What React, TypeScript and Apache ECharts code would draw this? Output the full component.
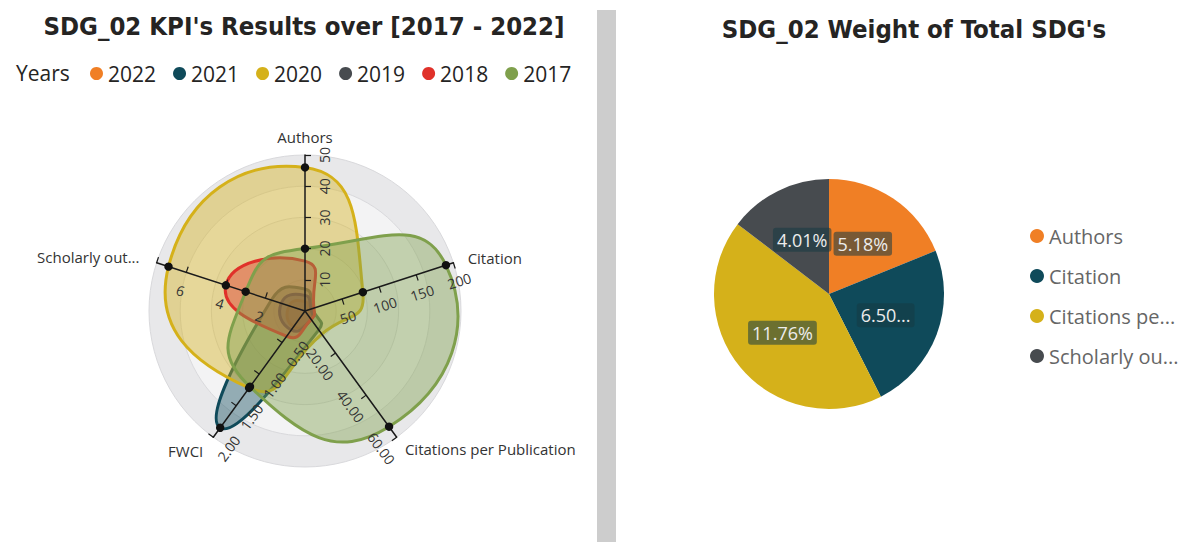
import React, { useEffect, useRef } from 'react';
import * as echarts from 'echarts';

// ---------- data ----------
const axisNames = ['Authors', 'Citation', 'Citations per Publication', 'FWCI', 'Scholarly output'];
const axisMax = [50, 200, 60, 2, 7.5];
const authorsTicks = [10, 20, 30, 40, 50];
const citationTicks = [50, 100, 150, 200];
const cppTicks = [20, 40, 60];
const fwciTicks = [0.5, 1, 1.5, 2];
const scholarlyTicks = [2, 4, 6];

const years = ['2022', '2021', '2020', '2019', '2018', '2017'];
// values in axis order: Authors, Citation, Citations per Publication, FWCI, Scholarly output
const values2022 = [3, 5, 4, 0.25, 0.8];
const values2021 = [7, 10, 9, 1.85, 1.7];
const values2020 = [46, 78, 11, 1.22, 6.9];
const values2019 = [5, 8, 4, 0.3, 1.2];
const values2018 = [16, 12, 4, 0.4, 4];
const values2017 = [20, 190, 55, 1.2, 3];

const pieNames = ['Authors', 'Citation', 'Citations per Publication', 'Scholarly output'];
const pieValues = [5.18, 6.5, 11.76, 4.01];
const pieTruncated = [false, true, false, false];

// ---------- styling ----------
const yearColors = ['#F07F25', '#0F4A5A', '#D5B11A', '#474B4F', '#E0312A', '#7FA04C'];
const pieColors = ['#F07F25', '#0F4A5A', '#D5B11A', '#474B4F'];
const yearValues = [values2022, values2021, values2020, values2019, values2018, values2017];
const tickSets = [authorsTicks, citationTicks, cppTicks, fwciTicks, scholarlyTicks];
const labelFormatters = [
  (v: number) => String(v),
  (v: number) => String(v),
  (v: number) => v.toFixed(2),
  (v: number) => v.toFixed(2),
  (v: number) => String(v),
];
const nameGaps = [8, 15, 14, 17, 18];
const radarOrder = [0, 4, 3, 2, 1]; // echarts radar runs counter-clockwise
const CX = 305;
const CY = 311;
const R = 156;
const UI_FONT = "'Open Sans', 'Noto Sans', sans-serif";
const TITLE_FONT = "'DejaVu Sans Condensed', 'DejaVu Sans', sans-serif";

function buildOption() {
  const axisIndicators = radarOrder.map((k, i) => {
    const ang = 90 + 72 * i;
    const norm = ((ang + 180) % 360) - 180;
    let rot = norm;
    if (rot > 90) rot -= 180;
    else if (rot <= -90) rot += 180;
    const flipped = rot !== norm;
    const ticks = k === 4 ? [...tickSets[k], axisMax[k]] : tickSets[k];
    const ind: any = {
      name: axisNames[k],
      min: 0,
      max: axisMax[k],
      nameGap: nameGaps[k],
      axisTick: { customValues: ticks },
      axisLabel: {
        customValues: tickSets[k],
        rotate: rot,
        formatter: labelFormatters[k],
        margin: flipped ? 12 : -26,
      },
    };
    if (k === 4) ind.nameTruncate = { maxWidth: 106, ellipsis: '...' };
    return ind;
  });
  const bgIndicators = radarOrder.map((k) => ({ name: axisNames[k], min: 0, max: axisMax[k] }));

  const areaSeries = years.map((y, yi) => ({
    type: 'custom',
    name: y,
    coordinateSystem: 'polar',
    z: 2,
    itemStyle: { color: yearColors[yi] },
    data: [[0, 0]],
    renderItem: (params: any, api: any) => {
      const pts = yearValues[yi].map((v, k) => api.coord([v / axisMax[k], k]));
      return {
        type: 'polygon',
        shape: { points: pts, smooth: 0.6 },
        style: {
          fill: echarts.color.modifyAlpha(yearColors[yi], 0.42),
          stroke: yearColors[yi],
          lineWidth: 3,
        },
      };
    },
  }));

  const dotSeries = {
    type: 'custom',
    name: 'points',
    coordinateSystem: 'polar',
    z: 4,
    data: years.map((_, i) => [0, i]),
    renderItem: (params: any, api: any) => {
      const vals = yearValues[params.dataIndex];
      const children: any[] = [];
      vals.forEach((v, k) => {
        if (v / axisMax[k] >= 0.35) {
          const p = api.coord([v / axisMax[k], k]);
          children.push({ type: 'circle', shape: { cx: p[0], cy: p[1], r: 4.2 }, style: { fill: '#111' } });
        }
      });
      return { type: 'group', children };
    },
  };

  const pieSeries = {
    type: 'pie',
    center: [829, 294],
    radius: 115,
    startAngle: 90,
    clockwise: true,
    labelLine: { show: false },
    emphasis: { disabled: true },
    label: {
      show: true,
      position: 'inside',
      color: '#ececec',
      fontSize: 18,
      fontFamily: UI_FONT,
      backgroundColor: 'rgba(22,58,68,0.55)',
      padding: [3, 4],
      borderRadius: 3,
    },
    data: pieNames.map((n, i) => ({
      name: n,
      value: pieValues[i],
      itemStyle: { color: pieColors[i] },
      label: {
        formatter: (p: any) => p.value.toFixed(2) + (pieTruncated[i] ? '...' : '%'),
      },
    })),
  };

  return {
    animation: false,
    backgroundColor: '#ffffff',
    title: [
      {
        text: "SDG_02 KPI's Results over [2017 - 2022]",
        left: 304,
        top: 13,
        padding: 0,
        textAlign: 'center',
        textStyle: { fontFamily: TITLE_FONT, fontWeight: 'bold', fontSize: 25.5, color: '#252423' },
      },
      {
        text: "SDG_02 Weight of Total SDG's",
        left: 914,
        top: 16,
        padding: 0,
        textAlign: 'center',
        textStyle: { fontFamily: TITLE_FONT, fontWeight: 'bold', fontSize: 25.5, color: '#252423' },
      },
      {
        text: 'Years',
        left: 16,
        top: 62,
        padding: 0,
        textStyle: { fontFamily: UI_FONT, fontWeight: 'normal', fontSize: 21, color: '#252423' },
      },
    ],
    legend: [
      {
        data: years,
        left: 85,
        top: 58,
        icon: 'circle',
        itemWidth: 13,
        itemHeight: 13,
        itemGap: 17,
        selectedMode: false,
        textStyle: { fontFamily: UI_FONT, fontSize: 21, color: '#252423' },
      },
      {
        data: pieNames,
        orient: 'vertical',
        left: 1025,
        top: 218,
        icon: 'circle',
        itemWidth: 14,
        itemHeight: 14,
        itemGap: 14,
        selectedMode: false,
        textStyle: {
          fontFamily: UI_FONT,
          fontSize: 20,
          lineHeight: 26,
          color: '#666666',
          width: 134,
          overflow: 'truncate',
          ellipsis: '...',
        },
      },
    ],
    radar: [
      {
        center: [CX, CY],
        radius: R,
        startAngle: 90,
        shape: 'circle',
        z: 1,
        indicator: bgIndicators,
        axisName: { show: false },
        axisLine: { show: false },
        axisTick: { show: false },
        axisLabel: { show: false },
        splitLine: { show: true, lineStyle: { color: '#d9d9dc', width: 1 } },
        splitArea: { show: true, areaStyle: { color: ['#eeeeef', '#f3f3f4', '#eeeeef', '#f3f3f4', '#e8e8ea'] } },
      },
      {
        center: [CX, CY],
        radius: R,
        startAngle: 90,
        shape: 'circle',
        z: 3,
        indicator: axisIndicators,
        axisName: { color: '#333333', fontSize: 15, fontFamily: UI_FONT },
        axisLine: { show: true, lineStyle: { color: '#1a1a1a', width: 1.5 } },
        axisTick: { show: true, length: -6, lineStyle: { color: '#1a1a1a', width: 1.2 } },
        axisLabel: { show: true, color: '#333333', fontSize: 14, fontFamily: UI_FONT },
        splitLine: { show: false },
        splitArea: { show: false },
      },
    ],
    polar: { center: [CX, CY], radius: R },
    angleAxis: { type: 'value', min: 0, max: 5, startAngle: 90, clockwise: true, show: false },
    radiusAxis: { type: 'value', min: 0, max: 1, show: false },
    graphic: [
      { type: 'rect', shape: { x: 597, y: 10, width: 19, height: 532 }, style: { fill: '#cdcdcd' }, z: 0 },
    ],
    series: [...areaSeries, dotSeries, pieSeries],
  };
}

export default function App() {
  const ref = useRef<HTMLDivElement>(null);
  useEffect(() => {
    document.body.style.margin = '0';
    if (!ref.current) return;
    const chart = echarts.init(ref.current, undefined, { renderer: 'svg' });
    chart.setOption(buildOption() as any);
    return () => chart.dispose();
  }, []);
  return <div ref={ref} style={{ width: 1192, height: 542 }} />;
}
